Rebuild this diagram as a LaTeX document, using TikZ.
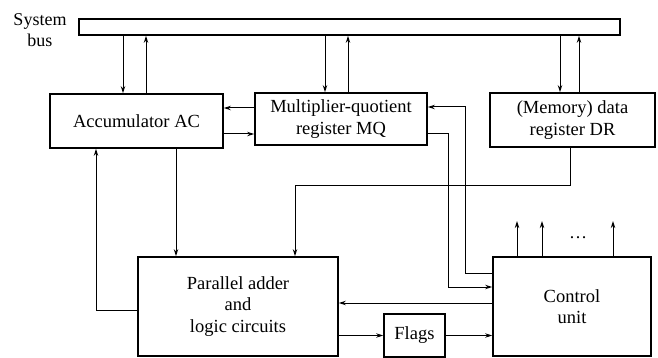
\documentclass[tikz,border=0pt]{standalone}
\usepackage{fontspec}
\setmainfont{Liberation Serif}
\usetikzlibrary{arrows.meta}
\begin{document}
\begin{tikzpicture}[x=1pt,y=-1pt, >={Stealth[length=7pt,width=4.5pt]},
  blk/.style={draw, rectangle, line width=1.8pt, align=center, inner sep=0pt, font=\fontsize{18.5}{21.5}\selectfont},
  every path/.style={line width=1pt}]
\useasboundingbox (0,0) rectangle (658,358);
\node[align=center, font=\fontsize{18}{21}\selectfont] (sb) at (40,30) {System\\bus};
\node[blk, minimum width=541pt, minimum height=16pt] (bus) at (349.5,27) {};
\node[blk, minimum width=173pt, minimum height=54pt] (AC) at (136.5,121) {Accumulator AC};
\node[blk, minimum width=172pt, minimum height=52pt] (MQ) at (341,119) {Multiplier-quotient\\register MQ};
\node[blk, minimum width=165pt, minimum height=54pt] (DR) at (572.5,120) {(Memory) data\\register DR};
\node[blk, minimum width=200pt, minimum height=99pt] (PA) at (238,306.5) {Parallel adder\\and\\logic circuits};
\node[blk, minimum width=61pt, minimum height=43pt] (FL) at (414.5,335.5) {Flags};
\node[blk, minimum width=158pt, minimum height=99pt] (CU) at (572,306.5) {Control\\unit};
\node[font=\fontsize{18}{21}\selectfont] (dots) at (578,238) {\dots};

% bus connections
\coordinate (acin) at ([xshift=-13.5pt]AC.north);
\coordinate (acout) at ([xshift=9.5pt]AC.north);
\coordinate (mqin) at ([xshift=-16pt]MQ.north);
\coordinate (mqout) at ([xshift=7pt]MQ.north);
\coordinate (drin) at ([xshift=-12.5pt]DR.north);
\coordinate (drout) at ([xshift=6.5pt]DR.north);
\draw[->] (bus.south -| acin) -- (acin);
\draw[->] (acout) -- (acout |- bus.south);
\draw[->] (bus.south -| mqin) -- (mqin);
\draw[->] (mqout) -- (mqout |- bus.south);
\draw[->] (bus.south -| drin) -- (drin);
\draw[->] (drout) -- (drout |- bus.south);

% AC and MQ
\coordinate (mq1) at ([yshift=11pt]MQ.west);
\coordinate (mq2) at ([yshift=-15pt]MQ.west);
\draw[->] (mq1) -- (mq1 -| AC.east);
\draw[->] (mq2 -| AC.east) -- (mq2);

% MQ and control unit
\coordinate (mq3) at ([yshift=12pt]MQ.east);
\coordinate (mq4) at ([yshift=-15pt]MQ.east);
\coordinate (cu1) at ([yshift=33.5pt]CU.west);
\coordinate (cu2) at ([yshift=19.5pt]CU.west);
\coordinate (cu3) at ([yshift=3.5pt]CU.west);
\draw[->] (cu1) -- ++(-27,0) |- (mq3);
\draw[->] (mq4) -- ++(21,0) |- (cu2);

% adder
\coordinate (ac3) at ([xshift=39.5pt]AC.south);
\coordinate (ac4) at ([xshift=-40.5pt]AC.south);
\coordinate (pa1) at ([yshift=-3.5pt]PA.west);
\coordinate (pa2) at ([xshift=57pt]PA.north);
\coordinate (dr1) at ([xshift=-2.5pt]DR.south);
\draw[->] (ac3) -- (ac3 |- PA.north);
\draw[->] (pa1) -| (ac4);
\draw[->] (dr1) -- ++(0,38) -| (pa2);
\draw[->] (cu3) -- (cu3 -| PA.east);
\draw[->] (PA.east |- FL.west) -- (FL.west);
\draw[->] (FL.east) -- (FL.east -| CU.west);

% control outputs
\foreach \dx in {-55,-30,41}
  \draw[->] ([xshift=\dx pt]CU.north) -- ++(0,-35);
\end{tikzpicture}
\end{document}
